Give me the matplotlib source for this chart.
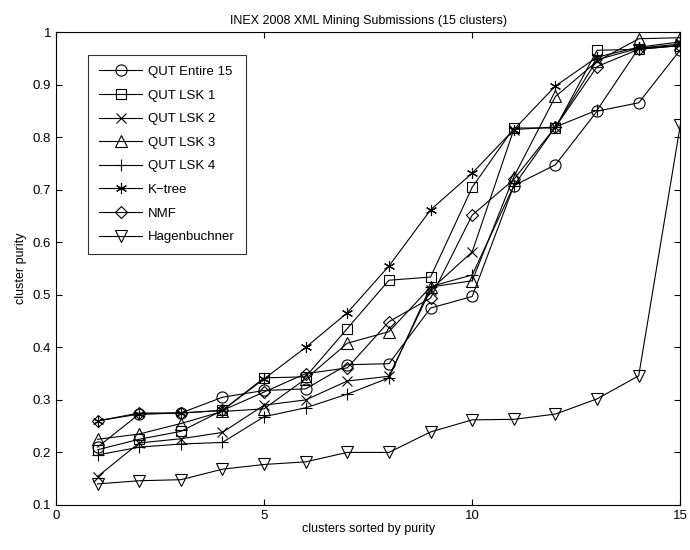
import numpy as np
import matplotlib
matplotlib.use("Agg")
import matplotlib.pyplot as plt

plt.rcParams['font.family'] = ['Liberation Sans', 'DejaVu Sans']

clusters = list(range(1, 16))

qut_entire_15 = [0.210, 0.273, 0.275, 0.305, 0.318, 0.321, 0.367, 0.369, 0.475, 0.497, 0.708, 0.748, 0.850, 0.866, 0.967]
qut_lsk_1 = [0.205, 0.225, 0.240, 0.280, 0.342, 0.344, 0.436, 0.528, 0.534, 0.705, 0.818, 0.818, 0.966, 0.968, 0.975]
qut_lsk_2 = [0.154, 0.218, 0.226, 0.238, 0.290, 0.300, 0.336, 0.345, 0.510, 0.582, 0.815, 0.820, 0.948, 0.970, 0.978]
qut_lsk_3 = [0.225, 0.235, 0.255, 0.278, 0.283, 0.340, 0.408, 0.430, 0.515, 0.527, 0.725, 0.878, 0.945, 0.988, 0.990]
qut_lsk_4 = [0.195, 0.210, 0.216, 0.219, 0.268, 0.285, 0.311, 0.342, 0.516, 0.538, 0.708, 0.820, 0.852, 0.970, 0.975]
k_tree = [0.260, 0.273, 0.275, 0.280, 0.340, 0.400, 0.466, 0.555, 0.662, 0.732, 0.815, 0.898, 0.953, 0.972, 0.982]
nmf = [0.260, 0.275, 0.275, 0.280, 0.315, 0.350, 0.361, 0.449, 0.494, 0.652, 0.720, 0.820, 0.935, 0.968, 0.975]
hagenbuchner = [0.140, 0.146, 0.148, 0.168, 0.177, 0.182, 0.200, 0.200, 0.239, 0.262, 0.263, 0.273, 0.302, 0.346, 0.824]

series = [
    ("QUT Entire 15", qut_entire_15, "o"),
    ("QUT LSK 1", qut_lsk_1, "s"),
    ("QUT LSK 2", qut_lsk_2, "x"),
    ("QUT LSK 3", qut_lsk_3, "^"),
    ("QUT LSK 4", qut_lsk_4, "+"),
    ("K\u2212tree", k_tree, (6, 2, 0)),
    ("NMF", nmf, "D"),
    ("Hagenbuchner", hagenbuchner, "v"),
]
marker_sizes = {"o": 8, "s": 7, "x": 7, "^": 8, "+": 9, "D": 6.5, "v": 8}

fig = plt.figure(figsize=(6.9, 5.5), dpi=100)
ax = fig.add_axes([0.081, 0.082, 0.905, 0.859])

for label, vals, mk in series:
    ms = marker_sizes.get(mk, 8) if isinstance(mk, str) else 8
    ax.plot(clusters, vals, color="black", linewidth=0.8, marker=mk,
            markersize=ms, markerfacecolor="none", markeredgecolor="black",
            markeredgewidth=0.8, label=label)

ax.set_xlim(0, 15)
ax.set_ylim(0.1, 1.0)
ax.set_xticks([0, 5, 10, 15])
ax.set_yticks(np.arange(0.1, 1.01, 0.1))
ax.set_yticklabels(["0.1", "0.2", "0.3", "0.4", "0.5", "0.6", "0.7", "0.8", "0.9", "1"])
ax.tick_params(direction="in", length=4, width=0.8, labelsize=9.5,
               top=True, right=True)
for sp in ax.spines.values():
    sp.set_linewidth(0.8)

ax.set_xlabel("clusters sorted by purity", fontsize=9, labelpad=1)
ax.set_ylabel("cluster purity", fontsize=9, labelpad=4)
ax.set_title("INEX 2008 XML Mining Submissions (15 clusters)", fontsize=9, pad=6)

leg = ax.legend(loc="upper left", bbox_to_anchor=(0.051, 0.953), fontsize=9.5,
                frameon=True, fancybox=False, edgecolor="black",
                handlelength=3.3, labelspacing=0.86, borderpad=0.85,
                handletextpad=0.4, borderaxespad=0)
leg.get_frame().set_linewidth(0.8)

fig.savefig("out.png", dpi=100)
